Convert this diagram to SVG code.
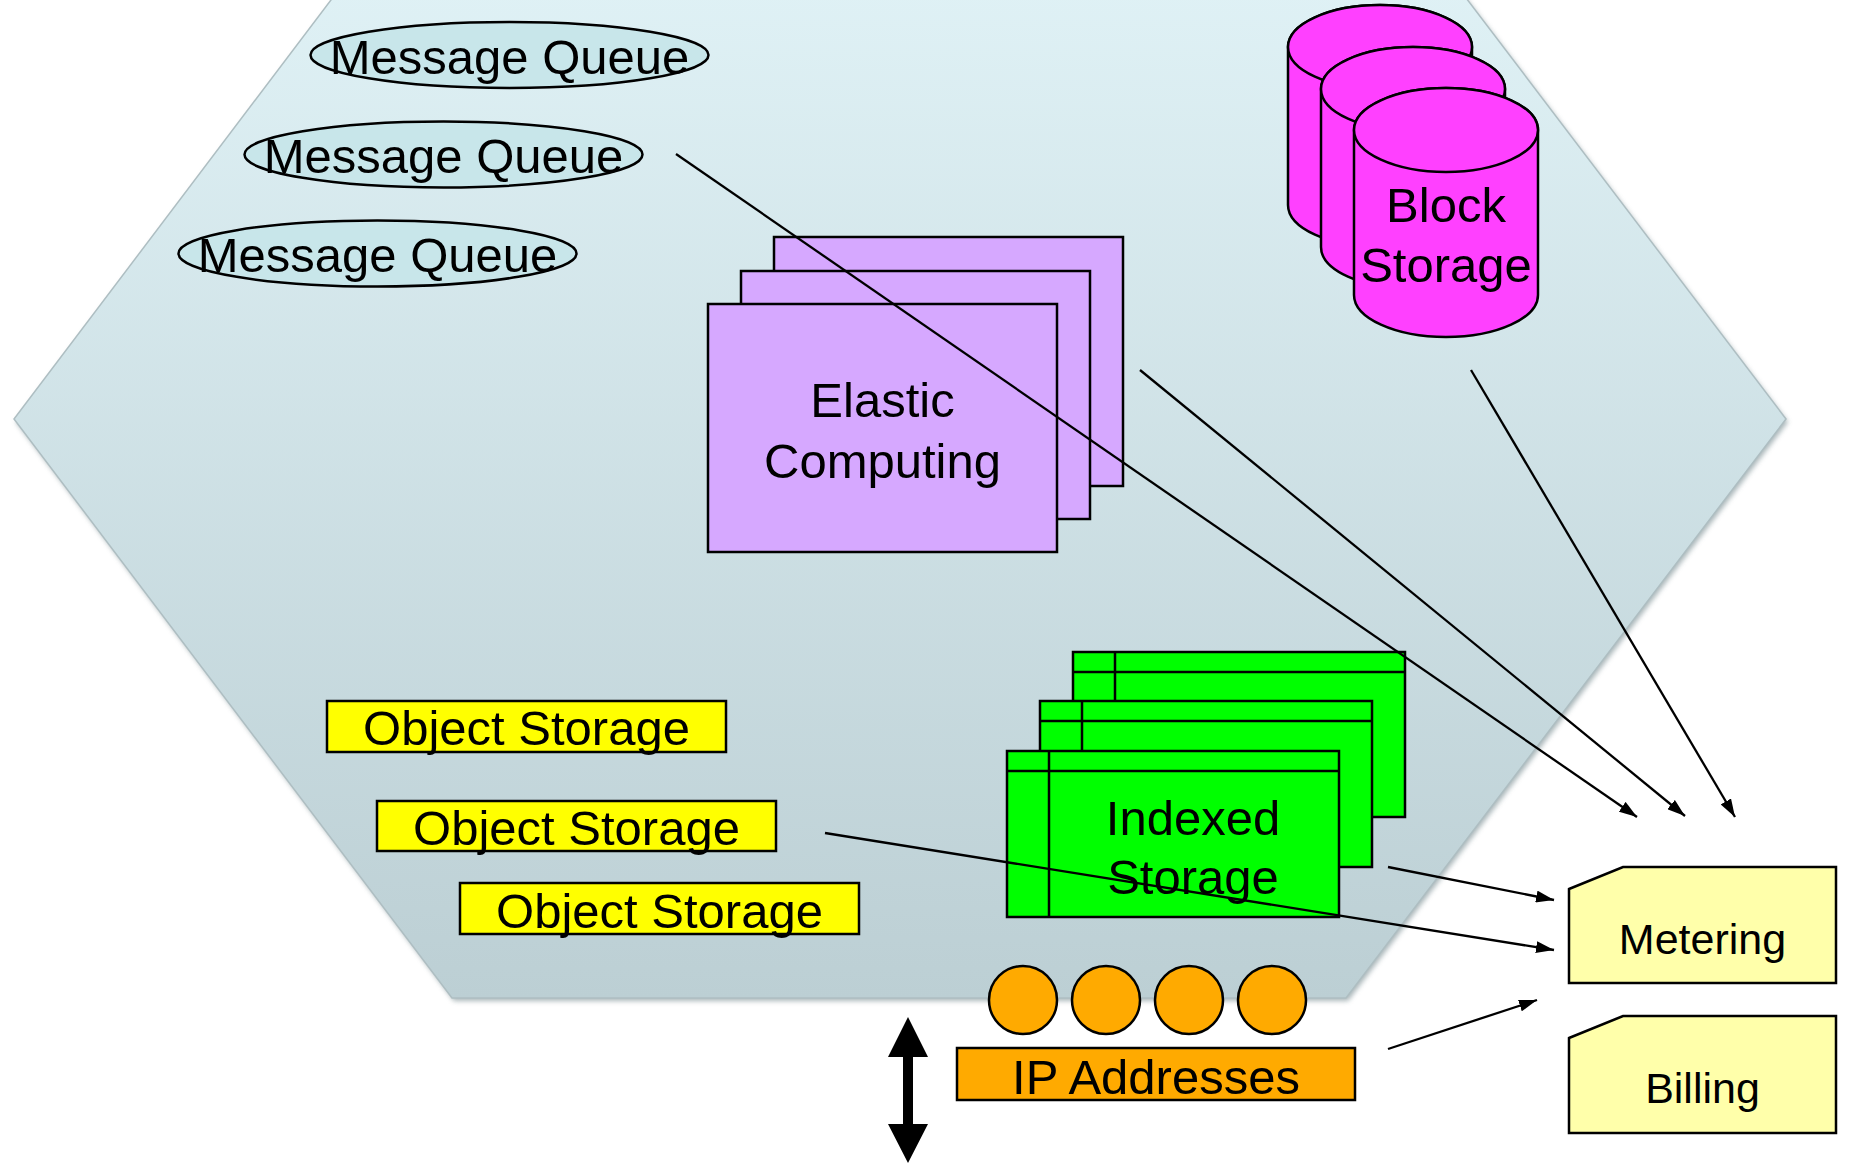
<svg xmlns="http://www.w3.org/2000/svg" width="1852" height="1163" viewBox="0 0 1852 1163">
  <defs>
    <linearGradient id="hexFill" x1="0" y1="0" x2="0" y2="1">
      <stop offset="0" stop-color="#e4f6fa"/>
      <stop offset="1" stop-color="#bccfd4"/>
    </linearGradient>
    <filter id="soft" x="-5%" y="-5%" width="110%" height="110%">
      <feGaussianBlur stdDeviation="2.5"/>
    </filter>
    <marker id="arrow" viewBox="0 0 18 12" refX="18" refY="6" markerWidth="18" markerHeight="12" markerUnits="userSpaceOnUse" orient="auto">
      <path d="M0,0 L18,6 L0,12 z" fill="#000"/>
    </marker>
  </defs>
  <style>
    text { font-family: "Liberation Sans", Arial, sans-serif; fill: #000; text-anchor: middle; }
    .big { font-size: 49px; }
    .small { font-size: 43px; }
    .mq { fill: #c8e6ea; stroke: #000; stroke-width: 2.5; }
    .ec { fill: #d6a8ff; stroke: #000; stroke-width: 2.5; }
    .bs { fill: #ff40ff; stroke: #000; stroke-width: 2.5; }
    .is { fill: #00ff00; stroke: #000; stroke-width: 2.5; }
    .os { fill: #ffff00; stroke: #000; stroke-width: 2.5; }
    .ip { fill: #ffaa00; stroke: #000; stroke-width: 2.5; }
    .doc { fill: #ffffaa; stroke: #000; stroke-width: 2.5; }
    .link { stroke: #000; stroke-width: 2.3; fill: none; marker-end: url(#arrow); }
  </style>

  <rect x="0" y="0" width="1852" height="1163" fill="#ffffff"/>

  <!-- cloud boundary: hexagon with soft shadow -->
  <g id="cloud">
    <polygon points="452,-160 1346,-160 1786,419 1346,998 452,998 14,419" fill="#8e9fa3" opacity="0.75" transform="translate(2,3)" filter="url(#soft)"/>
    <polygon points="452,-160 1346,-160 1786,419 1346,998 452,998 14,419" fill="url(#hexFill)" stroke="#aebec2" stroke-width="1.5"/>
  </g>

  <!-- message queues -->
  <g id="message-queue-1">
    <ellipse class="mq" cx="509.5" cy="55" rx="199" ry="33"/>
    <text class="big" x="509.5" y="74">Message Queue</text>
  </g>
  <g id="message-queue-2">
    <ellipse class="mq" cx="443.5" cy="154.5" rx="199" ry="33"/>
    <text class="big" x="443.5" y="173">Message Queue</text>
  </g>
  <g id="message-queue-3">
    <ellipse class="mq" cx="377.5" cy="253.5" rx="199" ry="33"/>
    <text class="big" x="377.5" y="272">Message Queue</text>
  </g>

  <!-- elastic computing stack -->
  <g id="elastic-computing">
    <rect class="ec" x="774" y="237" width="349" height="249"/>
    <rect class="ec" x="741" y="271" width="349" height="248"/>
    <rect class="ec" x="708" y="304" width="349" height="248"/>
    <text class="big" x="882.5" y="417">Elastic</text>
    <text class="big" x="882.5" y="478">Computing</text>
  </g>

  <!-- block storage cylinders -->
  <g id="block-storage">
    <path class="bs" d="M1288,47 L1288,205 A92,42 0 0 0 1472,205 L1472,47 A92,42 0 0 0 1288,47 Z"/>
    <ellipse class="bs" cx="1380" cy="47" rx="92" ry="42"/>
    <path class="bs" d="M1321,89 L1321,247 A92,42 0 0 0 1505,247 L1505,89 A92,42 0 0 0 1321,89 Z"/>
    <ellipse class="bs" cx="1413" cy="89" rx="92" ry="42"/>
    <path class="bs" d="M1354,130 L1354,295 A92,42 0 0 0 1538,295 L1538,130 A92,42 0 0 0 1354,130 Z"/>
    <ellipse class="bs" cx="1446" cy="130" rx="92" ry="42"/>
    <text class="big" x="1446" y="222">Block</text>
    <text class="big" x="1446" y="282">Storage</text>
  </g>

  <!-- object storage boxes -->
  <g id="object-storage-1">
    <rect class="os" x="327" y="701" width="399" height="51"/>
    <text class="big" x="526.5" y="745">Object Storage</text>
  </g>
  <g id="object-storage-2">
    <rect class="os" x="377" y="801" width="399" height="50"/>
    <text class="big" x="576.5" y="845">Object Storage</text>
  </g>
  <g id="object-storage-3">
    <rect class="os" x="460" y="883" width="399" height="51"/>
    <text class="big" x="659.5" y="928">Object Storage</text>
  </g>

  <!-- indexed storage stack (table sheets) -->
  <g id="indexed-storage">
    <rect class="is" x="1073" y="652" width="332" height="165"/>
    <line x1="1073" y1="672" x2="1405" y2="672" stroke="#000" stroke-width="2.5"/>
    <line x1="1115" y1="652" x2="1115" y2="701" stroke="#000" stroke-width="2.5"/>
    <rect class="is" x="1040" y="701" width="332" height="166"/>
    <line x1="1040" y1="721" x2="1372" y2="721" stroke="#000" stroke-width="2.5"/>
    <line x1="1082" y1="701" x2="1082" y2="751" stroke="#000" stroke-width="2.5"/>
    <rect class="is" x="1007" y="751" width="332" height="166"/>
    <line x1="1007" y1="771" x2="1339" y2="771" stroke="#000" stroke-width="2.5"/>
    <line x1="1049" y1="751" x2="1049" y2="917" stroke="#000" stroke-width="2.5"/>
    <text class="big" x="1193" y="835">Indexed</text>
    <text class="big" x="1193" y="894">Storage</text>
  </g>

  <!-- IP address pool -->
  <g id="ip-addresses">
    <circle class="ip" cx="1023" cy="1000" r="34"/>
    <circle class="ip" cx="1106" cy="1000" r="34"/>
    <circle class="ip" cx="1189" cy="1000" r="34"/>
    <circle class="ip" cx="1272" cy="1000" r="34"/>
    <rect class="ip" x="957" y="1048" width="398" height="52"/>
    <text class="big" x="1156" y="1094">IP Addresses</text>
  </g>

  <!-- external traffic -->
  <g id="traffic-arrow">
    <polygon points="908,1017 928,1057 913,1057 913,1124 928,1124 908,1163 888,1124 903,1124 903,1057 888,1057" fill="#000"/>
  </g>

  <!-- metering and billing -->
  <g id="metering">
    <polygon class="doc" points="1569,889 1623,867 1836,867 1836,983 1569,983"/>
    <text class="small" x="1702.5" y="954">Metering</text>
  </g>
  <g id="billing">
    <polygon class="doc" points="1569,1038 1623,1016 1836,1016 1836,1133 1569,1133"/>
    <text class="small" x="1702.5" y="1103">Billing</text>
  </g>

  <!-- usage feeds into metering -->
  <g id="connectors">
    <line class="link" x1="676" y1="154" x2="1637" y2="817"/>
    <line class="link" x1="1140" y1="370" x2="1685" y2="816"/>
    <line class="link" x1="1471" y1="370" x2="1735" y2="817"/>
    <line class="link" x1="1388" y1="867" x2="1554" y2="900"/>
    <line class="link" x1="825" y1="833" x2="1554" y2="950"/>
    <line class="link" x1="1388" y1="1049" x2="1537" y2="1000"/>
  </g>
</svg>
